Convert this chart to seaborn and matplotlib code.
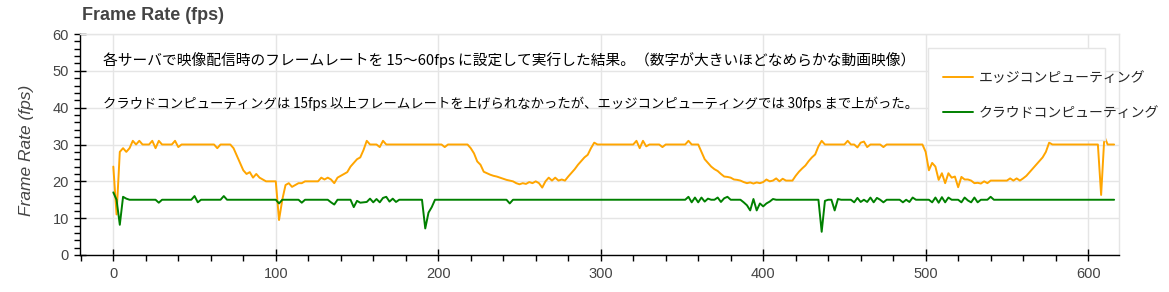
import numpy as np
import pandas as pd
import matplotlib
matplotlib.use("Agg")
import matplotlib.pyplot as plt
import matplotlib.patches as mpatches
from matplotlib.ticker import MultipleLocator
import seaborn as sns

# ---------------- data ----------------
time_s = list(range(0, 617, 2))

edge_fps = [
    24, 11, 28, 29, 28, 29, 31, 30, 31, 30,
    30, 30, 31, 29, 31, 30, 30, 30, 30, 31,
    29.3, 30, 30, 30, 30, 30, 30, 30, 30, 30,
    30, 30, 29, 30, 30, 30, 30, 29, 27, 25,
    23, 22, 22.5, 21, 22, 21, 20.5, 20, 20, 20,
    20, 9.5, 15, 19, 19.5, 18.5, 19, 19.5, 19.5, 20,
    20, 20, 20, 20, 21, 20.5, 21, 20.5, 19.5, 21,
    21.5, 22, 22.5, 24, 25, 26, 26.5, 28.5, 31, 30,
    30, 30, 29.3, 31, 30, 30, 30, 30, 30, 30,
    30, 30, 30, 30, 30, 30, 30, 30, 30, 30,
    30, 30, 29.3, 30, 30, 30, 30, 30, 30, 30,
    29, 27.6, 25.4, 24.5, 22.6, 22.2, 21.8, 21.5, 21.3, 21,
    20.7, 20.4, 20.2, 20, 19.5, 19.2, 19.5, 19.3, 19.8, 19.5,
    20, 19.5, 18.3, 20, 21, 20.2, 21, 20.2, 20.5, 20.2,
    21.3, 22.3, 23.3, 24.5, 25.5, 26.5, 27.2, 29, 30.5, 30,
    30, 30, 30, 30, 30, 30, 30, 30, 30, 30,
    30, 31, 29, 31, 29.5, 30, 30, 30, 30, 29.3,
    30, 30, 30, 30, 30, 30, 30, 31, 30, 30,
    30, 28, 26, 25, 24, 23.3, 22.8, 22, 21.3, 21.2,
    21, 20.5, 20.4, 20.2, 19.8, 19.5, 19.7, 19.4, 19.7, 19.5,
    19.8, 20.5, 20, 20.2, 20.8, 20, 20.7, 20.2, 20.2, 20.2,
    21.5, 22.6, 23.5, 24.3, 25.5, 26.5, 27.3, 29.5, 31, 30,
    30, 30, 30, 30, 30, 30, 31, 30, 30, 29.2,
    30.5, 30.8, 29.3, 30, 30, 30, 30, 29.3, 30, 30,
    30, 30, 30, 30, 30, 30, 30, 30, 30, 30,
    28, 23, 25, 24, 20.4, 22.2, 19.5, 22.2, 21, 21.3,
    18.4, 21.2, 20.5, 20.5, 20.2, 19.5, 19.6, 19.4, 20, 19.5,
    20.2, 20.2, 20.2, 20.2, 20.2, 20.2, 20.8, 20.2, 20.8, 20.2,
    20.8, 21.5, 22.5, 23.5, 24.5, 25.5, 26.5, 28, 30.5, 30,
    30, 30, 30, 30, 30, 30, 30, 30, 30, 30,
    30, 30, 30, 30, 16.3, 32.2, 30, 30, 30,
]

cloud_fps = [
    17, 15, 8.2, 15.8, 15.3, 15, 15, 15, 15, 15,
    15, 15, 15, 15, 14.2, 15, 15, 15, 15, 15,
    15, 15, 15, 15, 15, 16, 14.3, 15, 15, 15,
    15, 15, 15, 15, 16, 15, 15, 15, 15, 15,
    15, 15, 15, 15, 15, 15, 15, 15, 15, 15,
    15, 14, 15, 15, 15, 15, 15, 15, 14.2, 15,
    15, 15, 15, 15, 15, 15, 15, 14.3, 13.7, 15,
    15, 15, 15, 15, 13, 14.7, 14.2, 14.3, 14.4, 15.3,
    14.3, 15.2, 14.3, 15.5, 15.8, 14.5, 15.3, 14.4, 15, 15,
    15, 15, 15, 15, 15, 15, 7.2, 11.5, 13, 15,
    15, 15, 15, 15, 15, 15, 15, 15, 15, 15,
    15, 15, 15, 15, 15, 15, 15, 15, 15, 15,
    15, 15, 14, 15, 15, 15, 15, 15, 15, 15,
    15, 15, 15, 15, 15, 15, 15, 15, 15, 15,
    15, 15, 15, 15, 15, 15, 15, 15, 15, 15,
    15, 15, 15, 15, 15, 15, 15, 15, 15, 15,
    15, 15, 15, 15, 15, 15, 15, 15, 15, 15,
    15, 15, 15, 15, 15, 15, 15, 15.8, 14.3, 15.6,
    14.3, 15.6, 14.5, 15.3, 15, 15, 15.6, 14.4, 15.4, 15.8,
    15, 15, 15, 15, 14.3, 13.5, 12.1, 15.2, 12.1, 14,
    13.2, 14, 14.5, 15.2, 15, 15, 15, 15, 15, 15,
    15, 15, 15, 15, 15, 15, 15, 15, 6.3, 14.7,
    15, 15, 12.1, 15.2, 15, 15, 15, 15, 14.3, 15.5,
    14.4, 15, 14.4, 15.6, 14.3, 15.5, 15, 14.3, 15, 15,
    15, 15, 15, 14.3, 15, 14.4, 15.6, 15, 15, 15,
    15, 15, 14.3, 15.6, 14.2, 15.7, 14.3, 15.6, 15, 15,
    15, 14.3, 15.6, 14.8, 14.3, 15.6, 14.3, 15, 15, 15,
    15.8, 15, 15, 15, 15, 15, 15, 15, 15, 15,
    15, 15, 15, 15, 15, 15, 15, 15, 15, 15,
    15, 15, 15, 15, 15, 15, 15, 15, 15, 15,
    15, 15, 15, 15, 15, 15, 15, 15, 15,
]

series_names = ["エッジコンピューティング", "クラウドコンピューティング"]
series_colors = ["#FFA500", "#008000"]

title_text = "Frame Rate (fps)"
ylabel_text = "Frame Rate (fps)"
note_lines = [
    "各サーバで映像配信時のフレームレートを 15～60fps に設定して実行した結果。（数字が大きいほどなめらかな動画映像）",
    "クラウドコンピューティングは 15fps 以上フレームレートを上げられなかったが、エッジコンピューティングでは 30fps まで上がった。",
]
x_major = [0, 100, 200, 300, 400, 500, 600]
y_major = [0, 10, 20, 30, 40, 50, 60]

# ---------------- frame ----------------
df = pd.DataFrame({
    "time": time_s * 2,
    "fps": edge_fps + cloud_fps,
    "series": [series_names[0]] * len(time_s) + [series_names[1]] * len(time_s),
})

sns.set_style("white")
plt.rcParams["font.family"] = ["Liberation Sans", "Noto Sans CJK JP", "DejaVu Sans"]

W, H = 1169, 292
fig = plt.figure(figsize=(W / 100, H / 100), dpi=100)
ax = fig.add_axes([80 / W, 37 / H, 1039 / W, 221 / H])

sns.lineplot(data=df, x="time", y="fps", hue="series", hue_order=series_names,
             palette=series_colors, linewidth=1.4, legend=False, ax=ax, zorder=2)

ax.set_xlim(-20.5, 619)
ax.set_ylim(0, 60)
ax.set_xticks(x_major)
ax.set_yticks(y_major)
ax.xaxis.set_minor_locator(MultipleLocator(20))
ax.yaxis.set_minor_locator(MultipleLocator(2))
ax.set_xlabel("")
ax.set_ylabel("")

ax.grid(True, which="major", color="#e5e5e5", linewidth=1)
ax.set_axisbelow(True)
for s in ["left", "bottom"]:
    ax.spines[s].set_color("black")
    ax.spines[s].set_linewidth(1)
for s in ["top", "right"]:
    ax.spines[s].set_color("#e5e5e5")
    ax.spines[s].set_linewidth(1)

ax.tick_params(axis="both", which="both", bottom=True, left=True, top=False, right=False)
ax.tick_params(axis="both", which="major", direction="inout", length=8, width=1,
               color="black", labelcolor="#444444", labelsize=10.5)
ax.tick_params(axis="both", which="minor", direction="out", length=4, width=1,
               color="black")
ax.tick_params(axis="y", which="major", pad=4)
ax.tick_params(axis="x", which="major", pad=5)

# annotation lines
ax.text(23 / 1039, (255 - 60) / 221, note_lines[0], transform=ax.transAxes,
        fontsize=10.6, va="center", ha="left", color="black", zorder=7,
        family=["Noto Sans CJK JP", "DejaVu Sans"])
ax.text(23 / 1039, (255 - 104) / 221, note_lines[1], transform=ax.transAxes,
        fontsize=9.6, va="center", ha="left", color="black", zorder=7,
        family=["Noto Sans CJK JP", "DejaVu Sans"])

# legend box
box = mpatches.Rectangle(((928 - 80) / 1039, (255 - 140) / 221),
                         (1105 - 928) / 1039, (140 - 48) / 221,
                         transform=ax.transAxes, facecolor="white",
                         edgecolor="#e5e5e5", linewidth=1, zorder=4, clip_on=False)
ax.add_patch(box)
handles = [plt.Line2D([], [], color=c, linewidth=1.4) for c in series_colors]
leg = ax.legend(handles, series_names, loc="upper left",
                bbox_to_anchor=((943 - 80) / 1039, (255 - 71) / 221),
                frameon=False, borderpad=0, borderaxespad=0,
                handlelength=2.15, handletextpad=0.4, labelspacing=1.5,
                prop={"family": ["Noto Sans CJK JP"], "size": 10})
leg.set_zorder(6)

fig.text(82 / W, 1 - 15 / H, title_text, fontsize=13, fontweight="bold",
         color="#444444", ha="left", va="center")
fig.text(27 / W, 1 - 150 / H, ylabel_text, fontsize=12.5, style="italic",
         color="#444444", ha="center", va="center", rotation=90)

fig.savefig("out.png", dpi=100)
